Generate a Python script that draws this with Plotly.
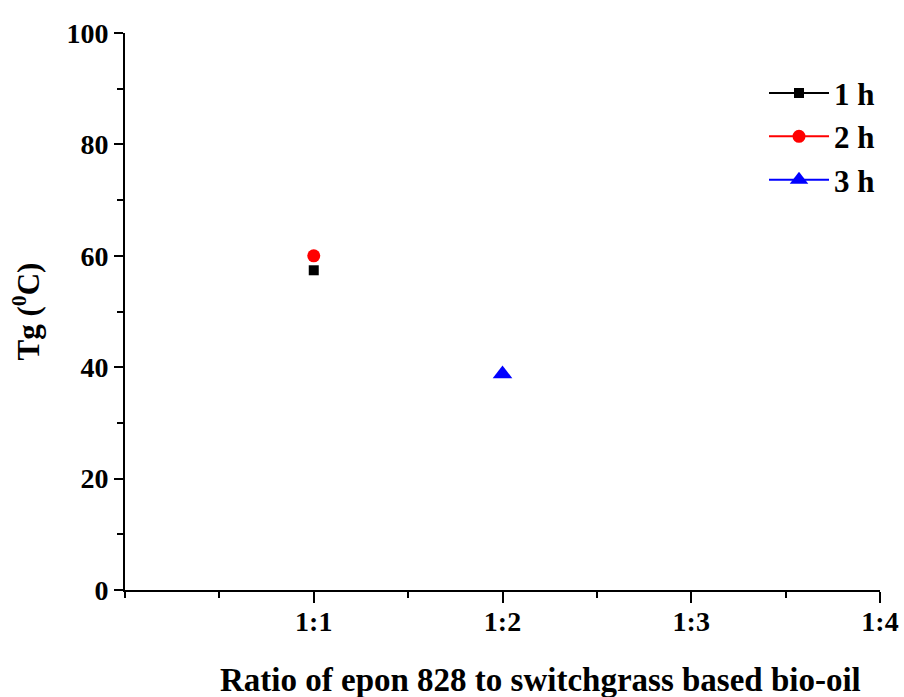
import plotly.graph_objects as go

series_names = ["1 h", "2 h", "3 h"]
series_x = [[1], [1], [2]]
series_y = [[57.4], [60.0], [38.8]]
colors = ["#000000", "#ff0000", "#0000ff"]
symbols = ["square", "circle", "triangle-up"]
sizes = [10, 13, 17]

x_tickvals = [1, 2, 3, 4]
x_ticktext = ["1:1", "1:2", "1:3", "1:4"]
y_tickvals = [0, 20, 40, 60, 80, 100]
x_title = "Ratio of epon 828 to switchgrass based bio-oil"
y_title = "Tg (<sup>0</sup>C)"

font_family = "Liberation Serif"

fig = go.Figure()
for name, xs, ys, c, s, sz in zip(series_names, series_x, series_y, colors, symbols, sizes):
    fig.add_trace(go.Scatter(
        x=xs, y=ys, name=name, mode="lines+markers",
        line=dict(color=c, width=2),
        marker=dict(color=c, symbol=s, size=sz),
    ))

fig.add_annotation(
    text=x_title, xref="paper", yref="paper", x=0.55, y=-0.162,
    xanchor="center", yanchor="middle", showarrow=False,
    font=dict(family=font_family, size=33, color="black", weight="bold"),
)

fig.update_layout(
    width=904, height=697,
    margin=dict(l=125, r=24, t=33, b=107),
    plot_bgcolor="white", paper_bgcolor="white",
    font=dict(family=font_family, color="black"),
    showlegend=True,
    legend=dict(
        x=1.0, y=0.94, xanchor="right", yanchor="top",
        font=dict(family=font_family, size=31, color="black", weight="bold"),
        bgcolor="rgba(0,0,0,0)", itemwidth=60, tracegroupgap=0,
    ),
    xaxis=dict(
        range=[0, 4], showgrid=False, zeroline=False, automargin=False,
        showline=True, linecolor="black", linewidth=2,
        tickmode="array", tickvals=x_tickvals, ticktext=x_ticktext,
        ticks="outside", ticklen=11, tickwidth=2, tickcolor="black",
        ticklabelstandoff=-6,
        minor=dict(dtick=0.5, ticks="outside", ticklen=6, tickwidth=2, tickcolor="black"),
        tickfont=dict(family=font_family, size=28, color="black", weight="bold"),
    ),
    yaxis=dict(
        range=[0, 100], showgrid=False, zeroline=False, automargin=False,
        showline=True, linecolor="black", linewidth=2,
        tickmode="array", tickvals=y_tickvals,
        ticks="outside", ticklen=9, tickwidth=2, tickcolor="black",
        minor=dict(dtick=10, ticks="outside", ticklen=6, tickwidth=2, tickcolor="black"),
        tickfont=dict(family=font_family, size=28, color="black", weight="bold"),
        title=dict(text=y_title,
                   font=dict(family=font_family, size=31, color="black", weight="bold"),
                   standoff=18),
    ),
)

fig.write_html("out.html")
